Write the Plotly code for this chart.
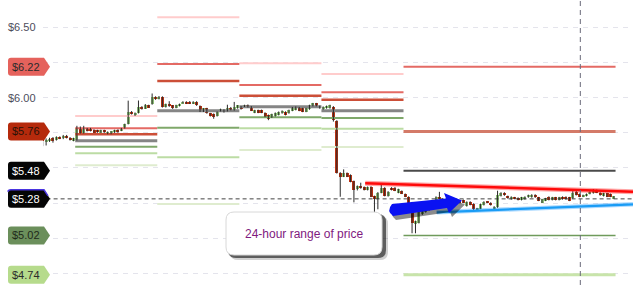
import plotly.graph_objects as go

W, H = 633, 285

# ---------------- candle data (hourly, index = candle number) ----------------
open_ = [
    5.730, 5.690, 5.695, 5.710, 5.700, 5.720, 5.710, 5.730, 5.715, 5.695,
    5.700, 5.782, 5.747, 5.780, 5.780, 5.770, 5.770, 5.752, 5.770, 5.742, 5.745, 5.755, 5.770, 5.765,
    5.782, 5.813, 5.900, 5.872, 5.890, 5.936, 5.922, 5.945, 5.952, 6.005,
    5.990, 6.007, 5.936, 5.955, 5.945, 5.930, 5.940, 5.960, 5.972, 5.972, 5.958, 5.970,
    5.941, 5.900, 5.924, 5.889, 5.885, 5.870, 5.905, 5.915, 5.905, 5.930, 5.910, 5.925,
    5.936, 5.936, 5.948, 5.936, 5.893, 5.912, 5.912, 5.893, 5.877, 5.860, 5.870, 5.877,
    5.889, 5.900, 5.889, 5.907, 5.912, 5.931, 5.925, 5.900, 5.917, 5.941, 5.960, 5.941,
    5.917, 5.925, 5.925, 5.936, 5.836, 5.462, 5.438, 5.462, 5.450, 5.407, 5.350, 5.372,
    5.365, 5.343, 5.367, 5.300, 5.277, 5.324, 5.360, 5.300, 5.360, 5.360, 5.324, 5.336,
    5.315, 5.295, 5.255, 5.106, 5.110, 5.170, 5.185, 5.200, 5.230, 5.272, 5.295, 5.282,
    5.270, 5.260, 5.265, 5.255, 5.270, 5.272, 5.229, 5.260, 5.245, 5.203, 5.210, 5.236,
    5.260, 5.253, 5.210, 5.220, 5.300, 5.324, 5.300, 5.277, 5.291, 5.288, 5.272, 5.277,
    5.291, 5.291, 5.310, 5.291, 5.253, 5.267, 5.295, 5.272, 5.291, 5.272, 5.295, 5.295,
    5.291, 5.284, 5.329, 5.315, 5.295, 5.300, 5.315, 5.320, 5.343, 5.324, 5.300, 5.320,
    5.315, 5.284,
]
high = [
    5.740, 5.710, 5.715, 5.720, 5.725, 5.725, 5.735, 5.735, 5.720, 5.715,
    5.800, 5.795, 5.800, 5.785, 5.785, 5.775, 5.772, 5.772, 5.772, 5.760, 5.762, 5.772, 5.775, 5.785,
    5.815, 5.979, 5.905, 5.895, 5.980, 5.940, 5.955, 5.950, 6.030, 6.010,
    6.012, 6.010, 5.958, 5.975, 5.948, 5.950, 5.958, 5.975, 5.975, 5.976, 5.975, 5.975,
    5.945, 5.926, 5.928, 5.892, 5.888, 5.902, 5.922, 5.918, 5.950, 5.934, 5.970, 5.948,
    5.940, 5.950, 5.952, 5.940, 5.914, 5.915, 5.915, 5.896, 5.880, 5.886, 5.895, 5.902,
    5.910, 5.903, 5.915, 5.934, 5.938, 5.934, 5.928, 5.928, 5.950, 5.963, 5.963, 5.944,
    5.938, 5.944, 5.950, 5.940, 5.840, 5.470, 5.490, 5.468, 5.454, 5.410, 5.375, 5.395,
    5.368, 5.368, 5.370, 5.303, 5.328, 5.385, 5.363, 5.335, 5.363, 5.364, 5.352, 5.340,
    5.318, 5.298, 5.258, 5.125, 5.192, 5.203, 5.212, 5.232, 5.262, 5.298, 5.330, 5.286,
    5.274, 5.270, 5.268, 5.266, 5.273, 5.275, 5.262, 5.263, 5.248, 5.216, 5.246, 5.263,
    5.263, 5.256, 5.228, 5.338, 5.327, 5.327, 5.303, 5.298, 5.294, 5.291, 5.294, 5.298,
    5.310, 5.313, 5.313, 5.294, 5.280, 5.287, 5.298, 5.294, 5.294, 5.294, 5.298, 5.298,
    5.294, 5.335, 5.340, 5.318, 5.310, 5.318, 5.334, 5.350, 5.346, 5.327, 5.323, 5.323,
    5.318, 5.300,
]
low = [
    5.655, 5.660, 5.685, 5.680, 5.695, 5.705, 5.705, 5.710, 5.695, 5.690,
    5.695, 5.745, 5.745, 5.760, 5.760, 5.750, 5.750, 5.750, 5.750, 5.740, 5.740, 5.750, 5.750, 5.762,
    5.780, 5.810, 5.880, 5.870, 5.888, 5.915, 5.920, 5.928, 5.950, 5.985,
    5.988, 5.930, 5.930, 5.935, 5.920, 5.925, 5.938, 5.958, 5.955, 5.955, 5.955, 5.942,
    5.898, 5.898, 5.886, 5.866, 5.850, 5.866, 5.902, 5.894, 5.902, 5.910, 5.908, 5.922,
    5.915, 5.934, 5.930, 5.905, 5.890, 5.890, 5.890, 5.862, 5.840, 5.856, 5.866, 5.874,
    5.886, 5.874, 5.886, 5.904, 5.910, 5.904, 5.897, 5.897, 5.914, 5.938, 5.938, 5.922,
    5.914, 5.922, 5.922, 5.830, 5.460, 5.295, 5.435, 5.435, 5.398, 5.255, 5.340, 5.352,
    5.340, 5.340, 5.292, 5.180, 5.206, 5.320, 5.298, 5.296, 5.340, 5.335, 5.320, 5.314,
    5.292, 5.245, 5.035, 5.035, 5.105, 5.166, 5.182, 5.196, 5.226, 5.268, 5.280, 5.266,
    5.256, 5.256, 5.250, 5.252, 5.247, 5.250, 5.225, 5.234, 5.200, 5.196, 5.207, 5.233,
    5.250, 5.232, 5.206, 5.216, 5.297, 5.302, 5.281, 5.274, 5.277, 5.269, 5.269, 5.274,
    5.288, 5.288, 5.287, 5.264, 5.250, 5.264, 5.269, 5.269, 5.269, 5.269, 5.274, 5.274,
    5.264, 5.281, 5.304, 5.292, 5.292, 5.297, 5.312, 5.317, 5.321, 5.302, 5.297, 5.292,
    5.292, 5.281,
]
close = [
    5.690, 5.700, 5.705, 5.695, 5.720, 5.710, 5.730, 5.715, 5.700, 5.710,
    5.782, 5.747, 5.782, 5.765, 5.765, 5.752, 5.755, 5.770, 5.755, 5.758, 5.760, 5.770, 5.755, 5.782,
    5.813, 5.900, 5.884, 5.890, 5.936, 5.918, 5.945, 5.930, 6.003, 5.990,
    6.007, 5.936, 5.955, 5.938, 5.925, 5.948, 5.955, 5.972, 5.958, 5.958, 5.972, 5.945,
    5.900, 5.924, 5.889, 5.870, 5.865, 5.900, 5.920, 5.897, 5.930, 5.912, 5.935, 5.945,
    5.917, 5.948, 5.931, 5.907, 5.912, 5.893, 5.893, 5.865, 5.849, 5.884, 5.893, 5.900,
    5.907, 5.877, 5.912, 5.931, 5.936, 5.907, 5.900, 5.925, 5.948, 5.960, 5.941, 5.925,
    5.936, 5.941, 5.948, 5.840, 5.462, 5.438, 5.462, 5.438, 5.402, 5.343, 5.370, 5.355,
    5.343, 5.365, 5.295, 5.280, 5.324, 5.360, 5.300, 5.330, 5.343, 5.338, 5.348, 5.317,
    5.295, 5.248, 5.106, 5.120, 5.190, 5.200, 5.210, 5.230, 5.260, 5.295, 5.282, 5.270,
    5.260, 5.265, 5.255, 5.262, 5.250, 5.253, 5.260, 5.236, 5.206, 5.213, 5.243, 5.260,
    5.253, 5.236, 5.225, 5.307, 5.324, 5.305, 5.284, 5.295, 5.280, 5.272, 5.291, 5.295,
    5.307, 5.310, 5.290, 5.267, 5.277, 5.284, 5.272, 5.291, 5.272, 5.291, 5.277, 5.277,
    5.267, 5.324, 5.307, 5.295, 5.307, 5.315, 5.331, 5.343, 5.324, 5.305, 5.320, 5.295,
    5.295, 5.297,
]

# ---------------- daily pivot levels ----------------
session_start = [9.5, 33.5, 57.5, 81.5]
session_end = [33.5, 57.5, 81.5, 105.5]
r3 = [5.870, 6.572, 6.245, 6.169]
r2 = [5.782, 6.240, 6.090, 6.038]
r1 = [5.740, 6.119, 6.014, 5.986]
pp = [5.694, 5.907, 5.936, 5.907]
s1 = [5.651, 5.786, 5.860, 5.856]
s2 = [5.604, 5.576, 5.782, 5.779]
s3 = [5.519, 5.243, 5.628, 5.649]

# ---------------- current session levels (tagged) ----------------
range_start, range_end = 105.5, 167.5
range_levels = [6.22, 5.76, 5.48, 5.02, 4.74]
range_labels = ["$6.22", "$5.76", "$5.48", "$5.02", "$4.74"]
last_price = 5.28
last_label = "$5.28"
now_index = 157.2

axis_labels = ["$6.50", "$6.00"]
axis_label_vals = [6.50, 6.00]
grid_vals = [4.75, 5.00, 5.25, 5.50, 5.75, 6.00, 6.25, 6.50]

red_trend_x = [94.3, 172.6]
red_trend_y = [5.391, 5.331]
blue_trend_x = [115.2, 172.6]
blue_trend_y = [5.184, 5.241]

note_text = "24-hour range of price"

# ---------------- styles ----------------
FONT = "Liberation Sans, Arial, sans-serif"
GREEN = "#8cbf76"
RED = "#b93213"
WICK = "#2a2a2a"
level_styles = [
    ("#ffcccc", 2), ("#e46a64", 2), ("#cc4f38", 2.5), ("#858585", 3),
    ("#7fa86a", 2), ("#bcdca4", 2), ("#dfeccf", 2),
]
range_styles = [("#e46a64", 2), ("#d47a68", 3), ("#4a4a4a", 2), ("#6f9b5c", 1.5), ("#c8e4aa", 3)]
tag_fill = ["#e5625c", "#b52a0c", "#050505", "#6b8f5b", "#b6db8c"]
tag_font = ["#2b2b2b", "#2b1208", "#ffffff", "#1f2a1a", "#2b2b2b"]

fig = go.Figure()

def seg_trace(xs0, xs1, ys, color, width, name):
    X, Y = [], []
    for a, b, v in zip(xs0, xs1, ys):
        X += [a, b, None]
        Y += [v, v, None]
    return go.Scatter(x=X, y=Y, mode="lines", line=dict(color=color, width=width),
                      hoverinfo="skip", showlegend=False, name=name)

for lv, (c, w) in zip([r3, r2, r1, pp, s1, s2, s3], level_styles):
    fig.add_trace(seg_trace(session_start, session_end, lv, c, w, "pivot"))

for lv, (c, w) in zip(range_levels, range_styles):
    fig.add_trace(seg_trace([range_start], [range_end], [lv], c, w, "range"))

# last price dashed line
fig.add_trace(go.Scatter(x=[-5, 200], y=[last_price, last_price], mode="lines",
                         line=dict(color="#444444", width=1, dash="4px,3px"),
                         hoverinfo="skip", showlegend=False))

# wicks
n = len(close)
idx = list(range(n))
wx, wy = [], []
for i in idx:
    wx += [i, i, None]
    wy += [low[i], high[i], None]
fig.add_trace(go.Scatter(x=wx, y=wy, mode="lines", line=dict(color=WICK, width=1),
                         hoverinfo="skip", showlegend=False))

# bodies
for up, col in [(True, GREEN), (False, RED)]:
    xs, base, hgt = [], [], []
    for i in idx:
        if (close[i] >= open_[i]) == up:
            xs.append(i)
            lo_ = min(open_[i], close[i])
            base.append(lo_)
            hgt.append(max(abs(close[i] - open_[i]), 0.009))
    fig.add_trace(go.Bar(x=xs, y=hgt, base=base, width=0.88, marker=dict(color=col, line=dict(width=0)),
                         hoverinfo="skip", showlegend=False))

# trend lines
fig.add_trace(go.Scatter(x=red_trend_x, y=red_trend_y, mode="lines",
                         line=dict(color="rgba(255,0,0,0.35)", width=5), hoverinfo="skip", showlegend=False))
fig.add_trace(go.Scatter(x=red_trend_x, y=red_trend_y, mode="lines",
                         line=dict(color="#ff0a0a", width=2.5), hoverinfo="skip", showlegend=False))
fig.add_trace(go.Scatter(x=blue_trend_x, y=blue_trend_y, mode="lines",
                         line=dict(color="rgba(20,150,255,0.35)", width=4.5), hoverinfo="skip", showlegend=False))
fig.add_trace(go.Scatter(x=blue_trend_x, y=blue_trend_y, mode="lines",
                         line=dict(color="#1a9cf5", width=2.2), hoverinfo="skip", showlegend=False))

shapes = []
# vertical "now" line
shapes.append(dict(type="line", xref="x", yref="paper", x0=now_index, x1=now_index, y0=0, y1=1,
                   line=dict(color="#6a6a7a", width=1, dash="5px,4px"), layer="above"))

# price tags (pixel-sized, anchored at level)
TAG = "M 11,9 L 44,9 L 50,0 L 44,-9 L 11,-9 Q 8,-9 8,-6 L 8,6 Q 8,9 11,9 Z"
tag_vals = range_levels + [last_price]
tag_texts = range_labels + [last_label]
fills = tag_fill + ["#050505"]
fcols = tag_font + ["#ffffff"]
for v, f in zip(tag_vals, fills):
    shapes.append(dict(type="path", xref="paper", yref="y", xsizemode="pixel", ysizemode="pixel",
                       xanchor=0, yanchor=v, path=TAG, fillcolor=f, line=dict(width=0), layer="above"))
shapes.append(dict(type="path", xref="paper", yref="y", xsizemode="pixel", ysizemode="pixel",
                   xanchor=0, yanchor=last_price, path="M 8,7 Q 8,9 11,9 L 44,9 L 48,3",
                   line=dict(color="#4a35e0", width=1.5), layer="above"))

# note box (pixel-sized, anchored top-left of page)
def rbox(x0, y0, x1, y1, r):
    return (f"M {x0+r},{-y0} L {x1-r},{-y0} Q {x1},{-y0} {x1},{-y0-r} L {x1},{-y1+r} "
            f"Q {x1},{-y1} {x1-r},{-y1} L {x0+r},{-y1} Q {x0},{-y1} {x0},{-y1+r} "
            f"L {x0},{-y0-r} Q {x0},{-y0} {x0+r},{-y0} Z")

def page_shape(path, fill, line=None):
    return dict(type="path", xref="paper", yref="paper", xsizemode="pixel", ysizemode="pixel",
                xanchor=0, yanchor=1, path=path, fillcolor=fill,
                line=line if line else dict(width=0), layer="above")

shapes.append(page_shape(rbox(230, 216, 388, 260, 8), "rgba(0,0,0,0.18)"))
shapes.append(page_shape(rbox(228, 214, 386, 258, 8), "rgba(0,0,0,0.55)"))
shapes.append(page_shape(rbox(226, 212, 382, 255, 8), "#ffffff", dict(color="#d8d8d8", width=1)))

# blue arrow with shadow
def arrow(dx, dy):
    pts = [(392, 204), (446, 198.5), (444, 193), (462, 200.5), (449, 213), (447, 208), (393, 216)]
    s = "M " + " L ".join(f"{x+dx},{-(y+dy)}" for x, y in pts)
    s += f" Q {386+dx},{-(211+dy)} {392+dx},{-(204+dy)} Z"
    return s

shapes.append(page_shape(arrow(3, 4), "rgba(0,0,0,0.45)"))
shapes.append(page_shape(arrow(0, 0), "#0a12f2"))

annotations = []
for v, t in zip(axis_label_vals, axis_labels):
    annotations.append(dict(xref="paper", yref="y", x=38 / W, y=v, text=t, showarrow=False,
                            xanchor="right", yanchor="middle",
                            font=dict(family=FONT, size=11, color="#4d4d5c")))
for v, t, c in zip(tag_vals, tag_texts, fcols):
    annotations.append(dict(xref="paper", yref="y", x=26 / W, y=v, text=t, showarrow=False,
                            xanchor="center", yanchor="middle",
                            font=dict(family=FONT, size=11, color=c)))
annotations.append(dict(xref="paper", yref="paper", x=304 / W, y=1 - 234 / H, text=note_text,
                        showarrow=False, xanchor="center", yanchor="middle",
                        font=dict(family=FONT, size=12, color="#7f1a80")))

fig.update_layout(
    width=W, height=H, margin=dict(l=0, r=0, t=0, b=0),
    paper_bgcolor="#ffffff", plot_bgcolor="#ffffff",
    barmode="overlay", bargap=0, showlegend=False,
    shapes=shapes, annotations=annotations,
    xaxis=dict(domain=[43 / W, 1], range=[(43 - 42.7) / 3.42, (633 - 42.7) / 3.42],
               showgrid=False, zeroline=False, showticklabels=False, showline=False, fixedrange=True),
    yaxis=dict(domain=[0, 1], range=[4.6669, 6.6954], tickvals=grid_vals, showticklabels=False,
               showgrid=True, gridcolor="#e4e4ec", gridwidth=1, griddash="5px,5px",
               zeroline=False, showline=False, fixedrange=True),
)

fig.write_html("out.html", config={"displayModeBar": False})
